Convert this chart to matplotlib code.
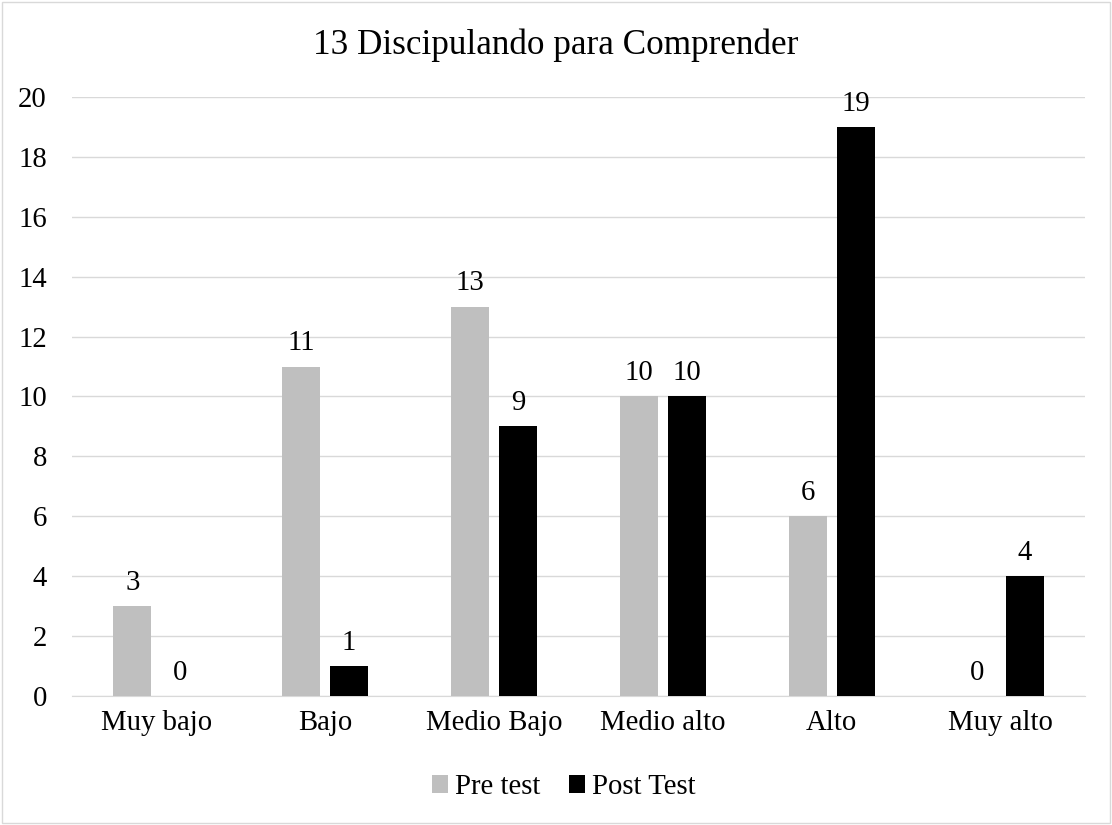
import matplotlib.pyplot as plt
import numpy as np

categories = ["Muy bajo", "Bajo", "Medio Bajo", "Medio alto", "Alto", "Muy alto"]
pre_test = [3, 11, 13, 10, 6, 0]
post_test = [0, 1, 9, 10, 19, 4]
title = "13 Discipulando para Comprender"

plt.rcParams['font.family'] = ['Liberation Serif', 'DejaVu Serif']

fig = plt.figure(figsize=(11.12, 8.25), dpi=100)
ax = fig.add_axes([0.0647, 0.1564, 0.911, 0.726])

x = np.arange(len(categories))
w = 0.225
off = 0.142
b1 = ax.bar(x - off, pre_test, w, color='#BFBFBF', label='Pre test', zorder=3)
b2 = ax.bar(x + off, post_test, w, color='#000000', label='Post Test', zorder=3)

fs = 20.7
for bars in (b1, b2):
    for r in bars:
        ax.annotate(str(int(r.get_height())), (r.get_x() + r.get_width() / 2, r.get_height()),
                    xytext=(0, 7.5), textcoords='offset points', ha='center', va='bottom', fontsize=fs)

ax.set_xlim(-0.5, len(categories) - 0.5)
ax.set_ylim(0, 20)
ax.set_yticks(range(0, 21, 2))
ax.set_xticks(x)
ax.set_xticklabels(categories)
ax.tick_params(axis='both', length=0, labelsize=fs)
ax.tick_params(axis='x', pad=10)
ax.tick_params(axis='y', pad=18)
ax.grid(axis='y', color='#D9D9D9', linewidth=1, zorder=0)
for s in ['top', 'right', 'left']:
    ax.spines[s].set_visible(False)
ax.spines['bottom'].set_color('#D9D9D9')

fig.text(0.5, 0.945, title, ha='center', va='center', fontsize=25.3)

fig.legend(loc='center', bbox_to_anchor=(0.507, 0.046), ncol=2, frameon=False, fontsize=fs,
           handlelength=0.55, handleheight=0.55, handletextpad=0.25, columnspacing=1.0)

fig.patches.append(plt.Rectangle((0.002, 0.002), 0.996, 0.996, transform=fig.transFigure,
                                 fill=False, edgecolor='#D9D9D9', linewidth=1))

fig.savefig('out.png', dpi=100)
